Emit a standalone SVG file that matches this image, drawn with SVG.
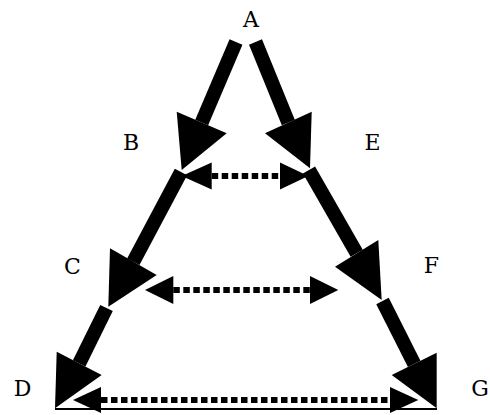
<svg xmlns="http://www.w3.org/2000/svg" width="490" height="415" viewBox="0 0 490 415">
  <style>
    .lbl { font-family: "DejaVu Serif", "Liberation Serif", serif; font-size: 22px; fill: #000; text-anchor: middle; }
    .shaft { stroke: #000; stroke-width: 14; fill: none; }
    .dash { stroke: #000; stroke-width: 6; stroke-dasharray: 6.5 3.5; fill: none; }
    .head { fill: #000; stroke: none; }
  </style>
  <rect width="490" height="415" fill="#fff"/>

  <g id="connectors">
    <!-- thin base line D to G -->
    <line x1="55" y1="409" x2="437" y2="409" stroke="#000" stroke-width="2"/>

    <!-- A -> B -->
    <g id="edge-A-B">
      <line class="shaft" x1="236" y1="42" x2="201.7" y2="122.5"/>
      <polygon class="head" points="176.7,111.7 226.7,133.3 181.7,170"/>
    </g>
    <!-- A -> E -->
    <g id="edge-A-E">
      <line class="shaft" x1="255.5" y1="42" x2="288.3" y2="122.5"/>
      <polygon class="head" points="265,133.3 311.7,111.7 310,168.3"/>
    </g>
    <!-- B -> C -->
    <g id="edge-B-C">
      <line class="shaft" x1="181" y1="172" x2="133.3" y2="261.7"/>
      <polygon class="head" points="110,248.3 156.7,275 108.3,306.7"/>
    </g>
    <!-- C -> D -->
    <g id="edge-C-D">
      <line class="shaft" x1="106.5" y1="308" x2="79.2" y2="363.3"/>
      <polygon class="head" points="56.7,351.7 101.7,375 55,408.3"/>
    </g>
    <!-- E -> F -->
    <g id="edge-E-F">
      <line class="shaft" x1="309" y1="170" x2="356.7" y2="253.3"/>
      <polygon class="head" points="335,266.7 378.3,240 381.7,300"/>
    </g>
    <!-- F -> G -->
    <g id="edge-F-G">
      <line class="shaft" x1="382.5" y1="301" x2="414.2" y2="363.8"/>
      <polygon class="head" points="391.7,375 436.7,352.7 436.7,408.3"/>
    </g>

    <!-- B <-> E -->
    <g id="edge-B-E">
      <line class="dash" x1="211.7" y1="176" x2="280" y2="176"/>
      <polygon class="head" points="181.7,176 211.7,162.5 211.7,189.5"/>
      <polygon class="head" points="308.3,176 280,162.5 280,189.5"/>
    </g>
    <!-- C <-> F -->
    <g id="edge-C-F">
      <line class="dash" x1="173.3" y1="290" x2="310" y2="290"/>
      <polygon class="head" points="145,290 173.3,276 173.3,304"/>
      <polygon class="head" points="338.3,290 310,276 310,304"/>
    </g>
    <!-- D <-> G -->
    <g id="edge-D-G">
      <line class="dash" x1="101" y1="400" x2="390" y2="400"/>
      <polygon class="head" points="73,400 101,387 101,413"/>
      <polygon class="head" points="418.3,400 390,387 390,413"/>
    </g>
  </g>

  <g id="node-A"><text class="lbl" x="251" y="26.5">A</text></g>
  <g id="node-B"><text class="lbl" x="131" y="150">B</text></g>
  <g id="node-E"><text class="lbl" x="372.5" y="150">E</text></g>
  <g id="node-C"><text class="lbl" x="72.5" y="274">C</text></g>
  <g id="node-F"><text class="lbl" x="431.5" y="273">F</text></g>
  <g id="node-D"><text class="lbl" x="22.5" y="396">D</text></g>
  <g id="node-G"><text class="lbl" x="480" y="396">G</text></g>
</svg>
